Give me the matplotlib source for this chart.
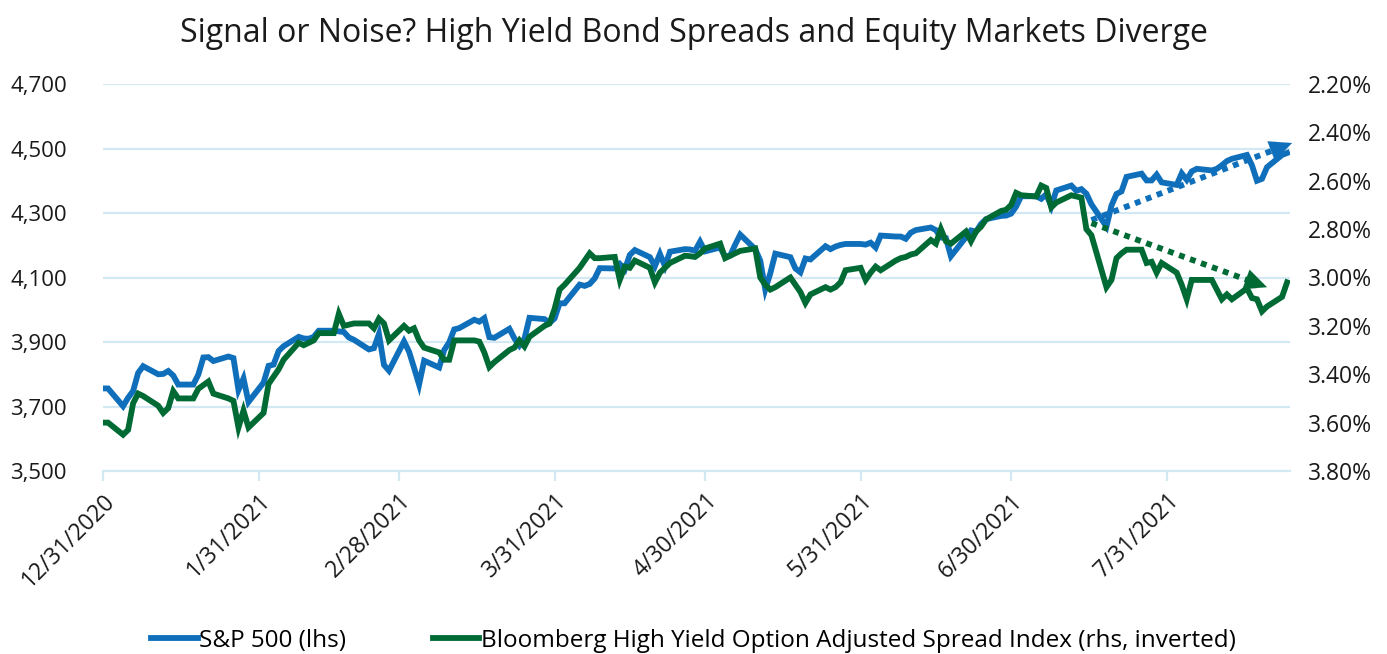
import numpy as np
import pandas as pd
import matplotlib
matplotlib.use("Agg")
import matplotlib.pyplot as plt
import matplotlib.dates as mdates
from matplotlib.ticker import FuncFormatter, FixedLocator

plt.rcParams['font.family'] = ['Open Sans', 'DejaVu Sans']

# business days, holidays carry the prior value
dates = pd.bdate_range('2020-12-31', '2021-08-24')

sp500 = [
    3756, 3756,
    3701, 3727, 3748, 3804, 3825,
    3800, 3801, 3810, 3796, 3768,
    3768, 3799, 3852, 3853, 3841,
    3855, 3850, 3751, 3787, 3714,
    3774, 3826, 3830, 3872, 3887,
    3916, 3911, 3910, 3916, 3935,
    3935, 3933, 3931, 3914, 3907,
    3877, 3881, 3925, 3829, 3811,
    3902, 3870, 3820, 3768, 3842,
    3821, 3875, 3899, 3939, 3943,
    3969, 3963, 3974, 3915, 3913,
    3941, 3911, 3889, 3910, 3975,
    3971, 3959, 3973, 4020, 4020,
    4078, 4074, 4080, 4097, 4129,
    4128, 4142, 4125, 4170, 4185,
    4163, 4135, 4173, 4135, 4180,
    4188, 4187, 4183, 4211, 4181,
    4193, 4165, 4168, 4202, 4233,
    4188, 4152, 4063, 4113, 4174,
    4163, 4128, 4116, 4159, 4156,
    4197, 4188, 4196, 4201, 4204,
    4204, 4202, 4208, 4193, 4230,
    4227, 4227, 4220, 4239, 4247,
    4255, 4247, 4224, 4222, 4166,
    4225, 4246, 4242, 4266, 4281,
    4291, 4292, 4298, 4320, 4352,
    4352, 4344, 4358, 4321, 4370,
    4385, 4369, 4374, 4360, 4327,
    4258, 4323, 4359, 4367, 4412,
    4422, 4401, 4401, 4419, 4395,
    4387, 4423, 4403, 4429, 4437,
    4432, 4437, 4448, 4461, 4468,
    4480, 4448, 4400, 4406, 4442,
    4480, 4486,
]

hy_oas = [
    3.60, 3.60,
    3.65, 3.63, 3.52, 3.48, 3.49,
    3.53, 3.56, 3.54, 3.47, 3.50,
    3.50, 3.46, 3.445, 3.43, 3.48,
    3.50, 3.51, 3.62, 3.55, 3.62,
    3.56, 3.44, 3.41, 3.38, 3.34,
    3.27, 3.28, 3.27, 3.26, 3.23,
    3.23, 3.15, 3.20, 3.195, 3.19,
    3.19, 3.21, 3.17, 3.19, 3.26,
    3.20, 3.22, 3.21, 3.26, 3.29,
    3.31, 3.34, 3.34, 3.26, 3.26,
    3.26, 3.265, 3.31, 3.37, 3.35,
    3.30, 3.29, 3.26, 3.285, 3.245,
    3.20, 3.19, 3.13, 3.05, 3.03,
    2.96, 2.93, 2.90, 2.92, 2.92,
    2.915, 3.01, 2.955, 2.96, 2.93,
    2.96, 3.02, 2.98, 2.96, 2.94,
    2.91, 2.912, 2.915, 2.90, 2.88,
    2.86, 2.92, 2.91, 2.90, 2.89,
    2.88, 3.00, 3.03, 3.05, 3.04,
    3.00, 3.03, 3.06, 3.105, 3.07,
    3.04, 3.05, 3.04, 3.02, 2.97,
    2.96, 3.01, 2.98, 2.955, 2.97,
    2.93, 2.92, 2.915, 2.905, 2.90,
    2.845, 2.86, 2.80, 2.85, 2.86,
    2.81, 2.85, 2.81, 2.79, 2.76,
    2.725, 2.72, 2.70, 2.65, 2.66,
    2.665, 2.62, 2.63, 2.71, 2.69,
    2.66, 2.665, 2.67, 2.80, 2.825,
    3.04, 3.01, 2.92, 2.90, 2.885,
    2.885, 2.94, 2.935, 2.98, 2.94,
    2.98, 3.03, 3.09, 3.01, 3.01,
    3.01, 3.05, 3.09, 3.07, 3.09,
    3.045, 3.085, 3.09, 3.14, 3.12,
    3.08, 3.02,
]

# dotted trend arrows
sp_trend_dates = ['2021-07-16', '2021-08-25']
sp_trend = [4278, 4517]
hy_trend_dates = ['2021-07-16', '2021-08-20']
hy_trend = [2.775, 3.04]

month_ticks = ['2020-12-31', '2021-01-31', '2021-02-28', '2021-03-31',
               '2021-04-30', '2021-05-31', '2021-06-30', '2021-07-31']

blue = '#0f6fba'
green = '#006a35'
grid_col = '#d2e8f2'
txt = '#1a1a1a'

fig = plt.figure(figsize=(13.87, 6.54), dpi=100)
ax = fig.add_axes([103 / 1387, 1 - 471 / 654, (1290 - 103) / 1387, (471 - 84) / 654])
ax2 = ax.twinx()

l1, = ax.plot(dates, sp500, color=blue, lw=4.2, solid_joinstyle='miter', zorder=3)
l2, = ax2.plot(dates, hy_oas, color=green, lw=4.2, solid_joinstyle='miter', zorder=3)

ax.set_ylim(3500, 4700)
ax.set_yticks(np.arange(3500, 4701, 200))
ax.yaxis.set_major_formatter(FuncFormatter(lambda v, p: f'{v:,.0f}'))
ax2.set_ylim(3.80, 2.20)
ax2.set_yticks(np.arange(2.2, 3.81, 0.2))
ax2.yaxis.set_major_formatter(FuncFormatter(lambda v, p: f'{v:.2f}%'))

ax.set_xlim(pd.Timestamp('2020-12-31'), pd.Timestamp('2021-08-24 14:00'))
tick_dates = pd.to_datetime(month_ticks)
ax.xaxis.set_major_locator(FixedLocator(mdates.date2num(tick_dates)))
ax.set_xticklabels([f'{d.month}/{d.day}/{d.year}' for d in tick_dates],
                   rotation=45, ha='right', rotation_mode='anchor')

ax.grid(axis='y', color=grid_col, lw=1.6)
ax.set_axisbelow(True)
for a in (ax, ax2):
    for s in ('top', 'left', 'right', 'bottom'):
        a.spines[s].set_visible(False)
ax.spines['bottom'].set_visible(True)
ax.spines['bottom'].set_color(grid_col)
ax.spines['bottom'].set_linewidth(1.6)
ax.tick_params(axis='x', colors=grid_col, length=7, width=1.6, labelcolor=txt,
               labelsize=16.5, pad=6)
ax.tick_params(axis='y', length=0, labelsize=16, labelcolor=txt, pad=26)
ax2.tick_params(axis='y', length=0, labelsize=16.5, labelcolor=txt, pad=13)

# trend arrows
def trend(axis, xs, ys, col):
    xs = pd.to_datetime(xs)
    axis.plot([xs[0], xs[1] - (xs[1] - xs[0]) * 0.08],
              [ys[0], ys[1] - (ys[1] - ys[0]) * 0.08],
              color=col, lw=4.2, ls=(0, (1, 1)), dash_capstyle='butt', zorder=4,
              clip_on=False)
    axis.annotate('', xy=(xs[1], ys[1]),
                  xytext=(xs[1] - (xs[1] - xs[0]) * 0.12, ys[1] - (ys[1] - ys[0]) * 0.12),
                  arrowprops=dict(arrowstyle='-|>,head_length=1.6,head_width=0.75',
                                  color=col, lw=0.1, shrinkA=0, shrinkB=0),
                  annotation_clip=False, zorder=5)

trend(ax, sp_trend_dates, sp_trend, blue)
trend(ax2, hy_trend_dates, hy_trend, green)

fig.text(0.5, 1 - 33 / 654, 'Signal or Noise? High Yield Bond Spreads and Equity Markets Diverge',
         ha='center', va='center', fontsize=23, color=txt)

fig.legend([l1, l2], ['S&P 500 (lhs)',
                      'Bloomberg High Yield Option Adjusted Spread Index (rhs, inverted)'],
           loc='center', bbox_to_anchor=(0.5, 1 - 641 / 654), ncol=2, frameon=False,
           fontsize=17.5, handlelength=1.9, handletextpad=0.05, columnspacing=3.6)

fig.savefig('out.png', dpi=100)
